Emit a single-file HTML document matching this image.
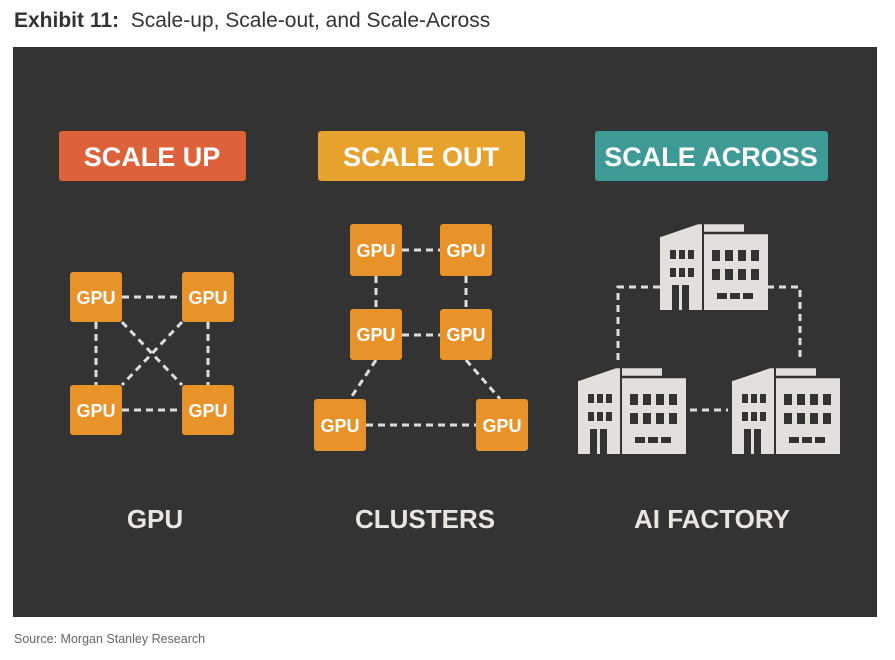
<!DOCTYPE html><html><head><style>body{margin:0;background:#fff;width:895px;height:660px;position:relative;font-family:"Liberation Sans",sans-serif;overflow:hidden}</style></head><body>
<div style="position:absolute;left:14px;top:9px;font-size:21px;color:#333"><b>Exhibit 11:</b>&nbsp; Scale-up, Scale-out, and Scale-Across</div>
<div style="position:absolute;left:13px;top:47px;width:864px;height:570px;background:#333"></div>
<div style="position:absolute;left:14px;top:632px;font-size:12.5px;color:#666">Source: Morgan Stanley Research</div>
<svg width="895" height="660" style="position:absolute;left:0;top:0" font-family="Liberation Sans" font-weight="bold">
<defs>
<g id="b">
<path d="M0,13 L38,0 L42,0 L42,87 L0,87Z M44,0 L84,0 L84,10 L108,10 L108,87 L44,87Z" fill="#e2e0dc"/>
<path d="M0,13 L38,0 L84,0 M42,10 L108,10" stroke="#333" stroke-width="2.5" fill="none"/>
<g fill="#333">
<rect x="10" y="27" width="6" height="9"/><rect x="19" y="27" width="6" height="9"/><rect x="28" y="27" width="6" height="9"/>
<rect x="10" y="45" width="6" height="9"/><rect x="19" y="45" width="6" height="9"/><rect x="28" y="45" width="6" height="9"/>
<rect x="12" y="62" width="7" height="25"/><rect x="22" y="62" width="7" height="25"/>
<rect x="52" y="27" width="8" height="11"/><rect x="65" y="27" width="8" height="11"/><rect x="78" y="27" width="8" height="11"/><rect x="91" y="27" width="8" height="11"/>
<rect x="52" y="46" width="8" height="11"/><rect x="65" y="46" width="8" height="11"/><rect x="78" y="46" width="8" height="11"/><rect x="91" y="46" width="8" height="11"/>
<rect x="57" y="70" width="10" height="6"/><rect x="70" y="70" width="10" height="6"/><rect x="83" y="70" width="10" height="6"/>
</g></g>
</defs>
<rect x="59" y="131" width="187" height="50" rx="3" fill="#dd623c"/>
<rect x="318" y="131" width="207" height="50" rx="3" fill="#e6a22d"/>
<rect x="595" y="131" width="233" height="50" rx="3" fill="#3e9a94"/>
<g fill="#fff" font-size="27" text-anchor="middle">
<text x="152" y="166">SCALE UP</text><text x="421" y="166">SCALE OUT</text><text x="711" y="166">SCALE ACROSS</text>
</g>
<g stroke="#ddd" stroke-width="3" stroke-dasharray="7,5" fill="none">
<path d="M122,297H182 M122,410H182 M96,322V385 M208,322V385 M122,322L182,385 M182,322L122,385"/>
<path d="M402,250H440 M402,335H440 M376,276V309 M466,276V309 M376,360L350,399 M466,360L500,399 M366,425H476"/>
<path d="M660,287H618V360 M767,287H800V360 M690,410H728"/>
</g>
<g fill="#e8922a">
<rect x="70" y="272" width="52" height="50" rx="3"/><rect x="182" y="272" width="52" height="50" rx="3"/>
<rect x="70" y="385" width="52" height="50" rx="3"/><rect x="182" y="385" width="52" height="50" rx="3"/>
<rect x="350" y="224" width="52" height="52" rx="3"/><rect x="440" y="224" width="52" height="52" rx="3"/>
<rect x="350" y="309" width="52" height="51" rx="3"/><rect x="440" y="309" width="52" height="51" rx="3"/>
<rect x="314" y="399" width="52" height="52" rx="3"/><rect x="476" y="399" width="52" height="52" rx="3"/>
</g>
<g fill="#fff" font-size="18" text-anchor="middle">
<text x="96" y="304">GPU</text><text x="208" y="304">GPU</text><text x="96" y="417">GPU</text><text x="208" y="417">GPU</text>
<text x="376" y="257">GPU</text><text x="466" y="257">GPU</text><text x="376" y="341">GPU</text><text x="466" y="341">GPU</text>
<text x="340" y="432">GPU</text><text x="502" y="432">GPU</text>
</g>
<use href="#b" x="660" y="223"/><use href="#b" x="578" y="367"/><use href="#b" x="732" y="367"/>
<g fill="#e8e6e2" font-size="26" text-anchor="middle">
<text x="155" y="528">GPU</text><text x="425" y="528">CLUSTERS</text><text x="712" y="528">AI FACTORY</text>
</g>
</svg>
</body></html>
